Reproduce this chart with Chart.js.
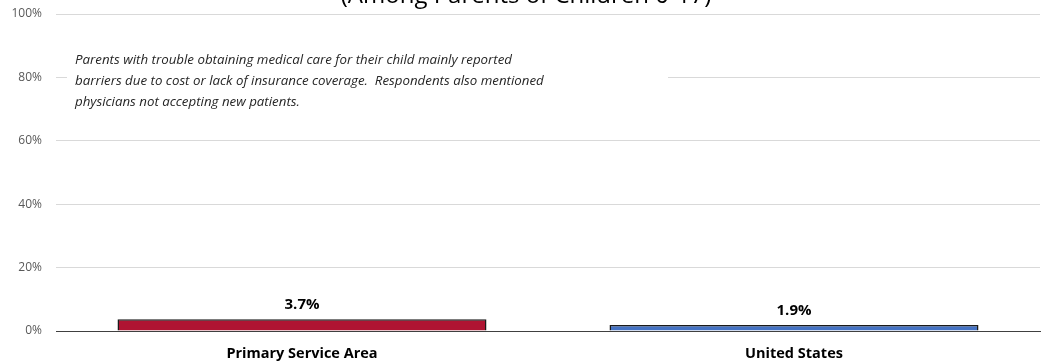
<!DOCTYPE html>
<html>
<head>
<meta charset="utf-8">
<script src="https://cdn.jsdelivr.net/npm/chart.js@4/dist/chart.umd.min.js"></script>
<style>
  html, body { margin: 0; padding: 0; background: #fff; }
  #wrap { position: relative; width: 1048px; height: 364px; }
</style>
</head>
<body>
<div id="wrap"><canvas id="chart"></canvas></div>
<script>
var categories = ["Primary Service Area", "United States"];
var values = [3.7, 1.9];
var barColors = ["#AF1432", "#4472C4"];
var yTicks = [0, 20, 40, 60, 80, 100];
var titleText = "(Among Parents of Children 0-17)";
var noteLines = [
    "Parents with trouble obtaining medical care for their child mainly reported",
    "barriers due to cost or lack of insurance coverage.  Respondents also mentioned",
    "physicians not accepting new patients."
];

var FONT = "'Open Sans', 'Noto Sans', sans-serif";

// title is cut off by the top edge in the original, draw it the same way
var titlePlugin = {
    id: "cutTitle",
    afterDraw: function(chart) {
        var ctx = chart.ctx;
        ctx.save();
        ctx.font = "24px " + FONT;
        ctx.fillStyle = "#000";
        ctx.textAlign = "center";
        ctx.textBaseline = "alphabetic";
        ctx.fillText(titleText, 526, 3);
        ctx.restore();
    }
};

var notePlugin = {
    id: "note",
    afterDraw: function(chart) {
        var ctx = chart.ctx;
        ctx.save();
        ctx.fillStyle = "#fff";
        ctx.fillRect(67, 47, 601, 68);
        ctx.font = "italic 13.3px " + FONT;
        ctx.fillStyle = "#262626";
        ctx.textAlign = "left";
        ctx.textBaseline = "middle";
        noteLines.forEach(function(line, i) {
            ctx.fillText(line, 75, 60 + i * 21);
        });
        ctx.restore();
    }
};

var valueLabels = {
    id: "valueLabels",
    afterDatasetsDraw: function(chart) {
        var ctx = chart.ctx;
        var meta = chart.getDatasetMeta(0);
        ctx.save();
        ctx.font = "bold 15px " + FONT;
        ctx.fillStyle = "#000";
        ctx.textAlign = "center";
        ctx.textBaseline = "alphabetic";
        meta.data.forEach(function(bar, i) {
            ctx.fillText(values[i].toFixed(1) + "%", bar.x, bar.y - 10);
        });
        ctx.restore();
    }
};

var ctx = document.getElementById("chart");
var chart = new Chart(ctx, {
    type: "bar",
    data: {
        labels: categories,
        datasets: [{
            data: values,
            backgroundColor: barColors,
            borderColor: "#1a1a1a",
            borderWidth: 1.5,
            barPercentage: 0.75,
            categoryPercentage: 1
        }]
    },
    options: {
        responsive: true,
        maintainAspectRatio: false,
        animation: false,
        layout: { padding: { top: 14, right: 8, left: 0, bottom: 0 } },
        plugins: {
            legend: { display: false },
            tooltip: { enabled: false }
        },
        scales: {
            x: {
                grid: { display: false },
                border: { color: "#404040" },
                afterFit: function(axis) {
                    axis.height = 33;
                    axis.paddingLeft = 0;
                    axis.paddingRight = 0;
                },
                ticks: {
                    color: "#000",
                    font: { family: FONT, size: 14.5, weight: "bold" },
                    padding: 6
                }
            },
            y: {
                min: 0,
                max: 100,
                afterBuildTicks: function(axis) {
                    axis.ticks = yTicks.map(function(v) { return { value: v }; });
                },
                afterFit: function(axis) {
                    axis.width = 56;
                    axis.paddingTop = 0;
                    axis.paddingBottom = 0;
                },
                grid: {
                    drawTicks: false,
                    color: function(c) { return c.tick && c.tick.value === 0 ? "#404040" : "#d9d9d9"; }
                },
                border: { display: false },
                ticks: {
                    color: "#595959",
                    font: { family: FONT, size: 12 },
                    padding: 14,
                    callback: function(v) { return v + "%"; }
                }
            }
        }
    },
    plugins: [titlePlugin, notePlugin, valueLabels]
});
</script>
</body>
</html>
